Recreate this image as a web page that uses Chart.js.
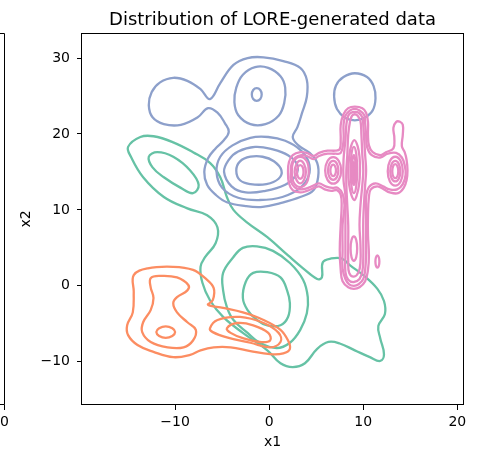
<!DOCTYPE html>
<html>
<head>
<meta charset="utf-8">
<script src="https://cdn.jsdelivr.net/npm/chart.js@4"></script>
<style>
  body { margin: 0; background: #fff; }
  #wrap { width: 483px; height: 449px; }
</style>
</head>
<body>
<div id="wrap"><canvas id="kde" width="483" height="449"></canvas></div>
<script>
// density contour outlines per class, each level is a closed ring of [x1, x2] points
const greenLevels = [
  [[-15.0,18.3],[-13.7,19.6],[-12.3,19.7],[-10.2,18.9],[-8.1,17.6],[-6.3,16.2],[-5.2,14.3],[-4.5,11.7],[-3.8,10.0],[-2.3,8.3],[-0.2,6.4],[2.0,4.0],[3.6,2.3],[5.1,0.9],[5.6,1.1],[5.7,3.1],[6.6,3.6],[7.7,3.6],[8.6,2.7],[10.1,1.3],[11.5,-0.4],[12.2,-2.0],[12.3,-3.7],[11.6,-5.3],[11.8,-6.9],[12.2,-9.0],[11.8,-9.9],[10.7,-9.4],[9.1,-8.5],[7.5,-7.6],[6.3,-7.4],[5.1,-8.3],[3.8,-10.2],[2.5,-10.7],[1.2,-10.2],[-0.2,-8.5],[-2.8,-6.2],[-4.9,-4.1],[-6.3,-1.9],[-7.1,0.4],[-7.3,2.5],[-6.8,3.8],[-5.7,5.6],[-5.5,7.7],[-6.6,9.3],[-8.7,10.2],[-11.2,11.7],[-13.4,14.3],[-14.7,17.0]],
  [[-12.8,17.0],[-11.9,17.6],[-10.2,17.0],[-8.4,15.2],[-7.5,13.3],[-8.1,12.2],[-9.4,12.9],[-11.2,14.3],[-12.4,15.6]],
  [[-4.9,-0.6],[-4.9,1.7],[-3.8,3.8],[-2.8,5.0],[-1.3,5.2],[0.4,4.6],[2.2,3.0],[3.6,0.8],[4.1,-1.5],[4.0,-3.6],[3.3,-5.8],[2.2,-7.5],[0.8,-8.2],[-1.0,-7.5],[-2.3,-6.2],[-3.8,-4.5],[-4.5,-2.8]],
  [[-2.5,0.5],[-1.7,1.7],[-0.2,1.8],[1.2,1.1],[1.9,-0.6],[2.2,-2.3],[2.0,-4.1],[1.2,-5.2],[-0.2,-5.2],[-1.3,-4.5],[-2.3,-3.2],[-2.8,-1.6]]
];

const orangeLevels = [
  [[-14.4,1.4],[-12.9,2.3],[-10.2,2.5],[-8.1,2.1],[-6.8,1.0],[-5.9,-0.3],[-6.0,-1.9],[-6.5,-2.5],[-4.9,-2.9],[-2.8,-3.5],[-0.6,-4.5],[1.2,-5.8],[2.0,-7.2],[2.2,-8.3],[1.5,-8.9],[0.1,-9.0],[-2.0,-8.6],[-4.1,-8.1],[-5.9,-8.1],[-7.3,-8.5],[-8.4,-9.1],[-10.2,-9.4],[-12.3,-8.7],[-14.0,-7.8],[-15.0,-6.5],[-15.1,-5.2],[-14.5,-3.5],[-14.4,-0.8]],
  [[-12.6,1.0],[-11.6,1.3],[-9.8,1.1],[-8.6,0.1],[-8.7,-0.6],[-9.8,-1.5],[-10.2,-2.3],[-9.8,-3.5],[-8.7,-4.8],[-7.8,-5.8],[-8.1,-7.2],[-9.1,-8.1],[-10.8,-8.1],[-12.6,-7.4],[-13.5,-6.1],[-13.4,-4.8],[-12.6,-3.2],[-12.3,-1.6],[-12.6,-0.2]],
  [[-12.0,-6.1],[-11.7,-5.6],[-11.0,-5.35],[-10.3,-5.6],[-10.0,-6.1],[-10.3,-6.6],[-11.0,-6.85],[-11.7,-6.6]],
  [[-6.3,-5.6],[-5.5,-4.5],[-3.1,-4.1],[-0.6,-4.9],[1.0,-6.2],[1.2,-7.4],[0.1,-8.1],[-2.0,-7.5],[-4.5,-6.8],[-6.0,-6.1]],
  [[-4.5,-5.6],[-3.4,-4.9],[-1.7,-5.2],[-0.1,-6.2],[0.1,-7.2],[-1.0,-7.4],[-2.8,-6.9],[-4.1,-6.2]]
];

const blueLevels = [
  [[-6.3,24.6],[-7.3,25.9],[-8.7,27.0],[-10.2,27.4],[-11.6,26.8],[-12.5,25.5],[-12.8,23.8],[-12.4,22.2],[-11.2,21.3],[-9.4,21.2],[-7.6,22.2],[-6.5,23.4],[-5.5,22.8],[-4.7,21.4],[-4.3,20.3],[-4.8,19.2],[-5.7,18.1],[-6.5,16.8],[-6.9,15.0],[-6.6,13.3],[-5.7,12.0],[-4.5,11.0],[-2.5,10.5],[-0.7,10.4],[1.2,10.9],[3.3,11.7],[4.7,12.6],[5.2,14.3],[5.1,16.2],[4.3,17.5],[3.1,18.5],[2.5,19.6],[3.0,20.9],[3.5,22.8],[4.0,24.9],[4.0,27.1],[3.3,28.7],[1.5,29.6],[-0.6,30.1],[-2.3,30.0],[-3.8,29.1],[-5.2,26.7]],
  [[6.9,24.9],[7.1,26.4],[7.9,27.5],[9.1,28.0],[10.4,27.5],[11.1,26.3],[11.3,24.7],[11.0,23.1],[10.1,22.1],[9.1,21.8],[8.1,22.1],[7.2,23.3]],
  [[-3.5,26.1],[-2.8,27.8],[-1.5,28.8],[-0.1,28.7],[1.2,27.6],[1.7,26.1],[1.6,24.1],[1.0,22.4],[-0.4,21.3],[-2.0,21.3],[-3.3,22.5],[-3.7,24.2]],
  [[-1.85,25.2],[-1.7,25.8],[-1.33,26.05],[-0.95,25.8],[-0.8,25.2],[-0.95,24.6],[-1.33,24.35],[-1.7,24.6]],
  [[-5.6,15.0],[-5.2,17.0],[-3.9,18.5],[-2.0,19.5],[-0.1,19.6],[1.7,19.1],[3.3,17.9],[4.2,16.3],[4.2,14.5],[3.3,12.9],[1.4,11.7],[-1.0,11.3],[-3.3,11.6],[-5.0,12.9]],
  [[-4.8,15.0],[-4.3,16.6],[-3.3,17.7],[-1.5,18.3],[0.3,18.0],[2.0,17.2],[3.0,15.9],[2.8,14.5],[1.7,13.3],[-0.4,12.5],[-2.5,12.3],[-4.0,13.1]],
  [[-3.5,15.2],[-3.1,16.4],[-2.0,17.0],[-0.7,17.0],[0.5,16.4],[1.3,15.2],[1.0,14.1],[-0.3,13.4],[-2.0,13.4],[-3.1,13.9]]
];

const pinkLevels = [
  // outer cross with the small finger above the right blob
  [[9.1,23.6],[9.9,23.4],[10.3,22.8],[10.5,21.6],[10.5,19.9],[10.6,18.5],[11.0,17.6],[11.8,17.2],[12.4,17.6],[13.2,18.1],[13.3,19.5],[13.2,20.8],[13.5,21.6],[13.9,21.6],[14.2,21.2],[14.2,19.9],[14.1,18.4],[14.4,17.6],[14.6,16.6],[14.7,15.2],[14.6,13.9],[14.3,12.9],[13.7,12.2],[12.8,12.3],[12.2,12.7],[11.5,13.1],[10.8,12.7],[10.6,11.7],[10.5,9.3],[10.5,6.7],[10.6,4.0],[10.5,2.1],[10.2,0.6],[9.6,-0.2],[9.0,-0.4],[8.4,-0.2],[7.8,0.6],[7.6,2.1],[7.5,4.7],[7.6,8.0],[7.7,10.6],[7.6,12.0],[7.2,12.6],[6.6,12.5],[5.9,12.7],[5.3,13.1],[4.8,12.9],[4.0,12.5],[3.3,12.3],[2.5,12.6],[2.1,13.5],[2.0,15.0],[2.1,16.3],[2.5,17.2],[3.3,17.6],[4.0,17.5],[4.7,17.1],[5.3,17.5],[6.2,17.8],[7.0,17.8],[7.5,18.0],[7.6,19.2],[7.6,21.2],[7.9,22.6],[8.4,23.4]],
  [[9.1,23.3],[9.6,23.1],[10.1,22.5],[10.2,21.4],[10.3,19.9],[10.4,18.3],[10.9,17.2],[11.8,16.9],[12.6,17.4],[13.5,17.5],[14.1,16.9],[14.4,15.9],[14.5,14.6],[14.2,13.4],[13.6,12.7],[12.8,12.7],[12.1,13.1],[11.3,13.5],[10.6,13.0],[10.3,11.7],[10.3,9.3],[10.3,6.7],[10.3,4.0],[10.2,2.1],[10.0,0.9],[9.5,0.2],[9.0,0.0],[8.5,0.2],[8.1,0.9],[7.8,2.3],[7.8,4.7],[7.8,8.0],[8.0,10.6],[7.8,12.1],[7.3,12.9],[6.7,12.9],[6.0,13.1],[5.3,13.5],[4.7,13.2],[3.9,12.8],[3.2,12.7],[2.7,13.0],[2.3,13.8],[2.3,15.0],[2.4,16.2],[2.8,16.9],[3.4,17.2],[4.0,17.1],[4.7,16.7],[5.3,17.1],[6.2,17.4],[7.0,17.4],[7.6,17.5],[7.9,19.2],[7.9,21.2],[8.1,22.4],[8.6,23.1]],
  // column
  [[9.1,22.9],[9.5,22.8],[9.9,22.2],[10.0,21.2],[10.1,19.2],[10.2,17.2],[10.3,15.2],[10.2,13.3],[10.1,11.3],[10.0,8.7],[10.0,6.0],[10.0,3.6],[9.9,1.9],[9.6,0.9],[9.0,0.5],[8.4,0.8],[8.1,1.8],[8.1,4.0],[8.1,6.7],[8.1,9.3],[8.1,11.9],[7.9,13.9],[7.9,16.6],[8.1,19.2],[8.2,21.2],[8.4,22.4],[8.7,22.8]],
  [[9.1,22.6],[9.4,22.4],[9.7,21.7],[9.8,19.9],[9.9,17.2],[10.0,15.2],[9.9,13.3],[9.7,10.6],[9.6,8.0],[9.7,5.4],[9.7,3.1],[9.5,1.8],[9.0,1.2],[8.5,1.7],[8.4,3.1],[8.4,5.4],[8.4,8.0],[8.3,10.6],[8.2,13.3],[8.2,15.2],[8.3,17.2],[8.4,19.9],[8.6,21.7],[8.8,22.4]],
  [[9.05,19.2],[9.4,18.4],[9.6,17.0],[9.65,15.2],[9.55,13.3],[9.3,11.9],[9.05,11.3],[8.75,11.9],[8.5,13.3],[8.4,15.2],[8.5,17.0],[8.7,18.4]],
  [[9.35,15.25],[9.25,17.4],[9.0,18.3],[8.75,17.4],[8.65,15.25],[8.75,13.1],[9.0,12.2],[9.25,13.1]],
  [[9.2,15.25],[9.14,16.63],[9.0,17.2],[8.86,16.63],[8.8,15.25],[8.86,13.87],[9.0,13.3],[9.14,13.87]],
  [[9.1,15.1],[9.07,15.95],[9.0,16.3],[8.93,15.95],[8.9,15.1],[8.93,14.25],[9.0,13.9],[9.07,14.25]],
  [[9.35,4.9],[9.25,6.03],[9.0,6.5],[8.75,6.03],[8.65,4.9],[8.75,3.77],[9.0,3.3],[9.25,3.77]],
  // left blob
  [[4.2,15.0],[4.0,16.4],[3.3,17.0],[2.6,16.4],[2.4,15.0],[2.6,13.6],[3.3,13.0],[4.0,13.6]],
  [[3.9,15.0],[3.7,16.05],[3.3,16.5],[2.9,16.05],[2.7,15.0],[2.9,13.95],[3.3,13.5],[3.7,13.95]],
  [[3.65,15.0],[3.55,15.65],[3.3,15.9],[3.05,15.65],[2.95,15.0],[3.05,14.35],[3.3,14.1],[3.55,14.35]],
  // middle blob
  [[7.65,15.2],[7.4,16.44],[6.8,16.95],[6.2,16.44],[5.95,15.2],[6.2,13.96],[6.8,13.45],[7.4,13.96]],
  [[7.35,15.2],[7.19,16.09],[6.8,16.45],[6.41,16.09],[6.25,15.2],[6.41,14.31],[6.8,13.95],[7.19,14.31]],
  [[7.1,15.2],[7.01,15.73],[6.8,15.95],[6.59,15.73],[6.5,15.2],[6.59,14.67],[6.8,14.45],[7.01,14.67]],
  // right blob
  [[14.2,15.1],[13.97,16.45],[13.4,17.0],[12.83,16.45],[12.6,15.1],[12.83,13.75],[13.4,13.2],[13.97,13.75]],
  [[13.93,15.1],[13.78,16.06],[13.4,16.45],[13.02,16.06],[12.87,15.1],[13.02,14.14],[13.4,13.75],[13.78,14.14]],
  [[13.72,15.1],[13.63,15.75],[13.4,16.02],[13.17,15.75],[13.08,15.1],[13.17,14.45],[13.4,14.18],[13.63,14.45]],
  // stray island
  [[11.71,3.2],[11.65,3.76],[11.5,3.99],[11.35,3.76],[11.29,3.2],[11.35,2.64],[11.5,2.41],[11.65,2.64]]
];

const xTicks = [-10, 0, 10, 20];
const yTicks = [-10, 0, 10, 20, 30];
const sideTicks = [0];   // last tick of the panel to the left

const groups = [
  { levels: greenLevels, color: '#66c2a5', order: 4 },
  { levels: orangeLevels, color: '#fc8d62', order: 3 },
  { levels: blueLevels, color: '#8da0cb', order: 2 },
  { levels: pinkLevels, color: '#e78ac3', order: 1 }
];

// pad each ring with its neighbours so the spline closes without a kink,
// then hide the two padding segments
function ring(points, color, order) {
  const n = points.length;
  const loop = [points[n - 1], ...points, points[0], points[1]];
  const last = loop.length - 1;
  return {
    data: loop.map(p => ({ x: p[0], y: p[1] })),
    borderColor: color,
    borderWidth: 2.3,
    pointRadius: 0,
    pointHoverRadius: 0,
    tension: 0.4,
    fill: false,
    order: order,
    segment: {
      borderColor: c => (c.p0DataIndex === 0 || c.p1DataIndex === last) ? 'rgba(0,0,0,0)' : color
    }
  };
}

const datasets = [];
groups.forEach(g => g.levels.forEach(pts => datasets.push(ring(pts, g.color, g.order))));

const minus = v => v < 0 ? '\u2212' + Math.abs(v) : String(v);

// spines, title and the edge of the neighbouring panel
const framePlugin = {
  id: 'frame',
  afterDraw(chart) {
    const { ctx, chartArea: a } = chart;
    ctx.save();
    ctx.strokeStyle = '#000';
    ctx.lineWidth = 1;
    ctx.strokeRect(Math.round(a.left) - 0.5, Math.round(a.top) + 0.5,
      Math.round(a.right - a.left) + 1, Math.round(a.bottom - a.top) - 1);

    ctx.beginPath();
    ctx.moveTo(0, 33.5);
    ctx.lineTo(4.5, 33.5);
    ctx.lineTo(4.5, 404.5);
    ctx.lineTo(0, 404.5);
    ctx.moveTo(4.5, 404.5);
    ctx.lineTo(4.5, 410);
    ctx.stroke();

    ctx.fillStyle = '#000';
    ctx.font = '14px "DejaVu Sans"';
    ctx.textAlign = 'center';
    ctx.textBaseline = 'middle';
    sideTicks.forEach(t => ctx.fillText(minus(t), 4.5, 422));

    ctx.font = '18px "DejaVu Sans"';
    ctx.textBaseline = 'alphabetic';
    ctx.fillText('Distribution of LORE-generated data', (a.left + a.right) / 2, 25);
    ctx.restore();
  }
};

Chart.defaults.font.family = '"DejaVu Sans"';
Chart.defaults.font.size = 14;
Chart.defaults.color = '#000';

new Chart(document.getElementById('kde'), {
  type: 'line',
  data: { datasets: datasets },
  options: {
    responsive: false,
    animation: false,
    events: [],
    layout: { padding: { top: 33, right: 20, bottom: 0, left: 0 } },
    plugins: {
      legend: { display: false },
      title: { display: false },
      tooltip: { enabled: false }
    },
    scales: {
      x: {
        type: 'linear',
        min: -19.9,
        max: 20.6,
        afterBuildTicks: s => { s.ticks = xTicks.map(v => ({ value: v })); },
        afterFit: s => { s.height = 44; },
        ticks: { padding: 4, maxRotation: 0, autoSkip: false, callback: v => minus(v) },
        grid: { drawOnChartArea: false, drawTicks: true, tickLength: 5, color: '#000' },
        border: { display: false },
        title: { display: true, text: 'x1', font: { size: 14, lineHeight: 1 }, padding: { top: 0, bottom: 0 } }
      },
      y: {
        type: 'linear',
        min: -15.7,
        max: 33.3,
        afterBuildTicks: s => { s.ticks = yTicks.map(v => ({ value: v })); },
        afterFit: s => { s.width = 82; },
        ticks: { padding: 7, autoSkip: false, callback: v => minus(v) },
        grid: { drawOnChartArea: false, drawTicks: true, tickLength: 5, color: '#000' },
        border: { display: false },
        title: { display: true, text: 'x2', font: { size: 14, lineHeight: 1.2 }, padding: { top: 17.6, bottom: 0 } }
      }
    }
  },
  plugins: [framePlugin]
});
</script>
</body>
</html>
